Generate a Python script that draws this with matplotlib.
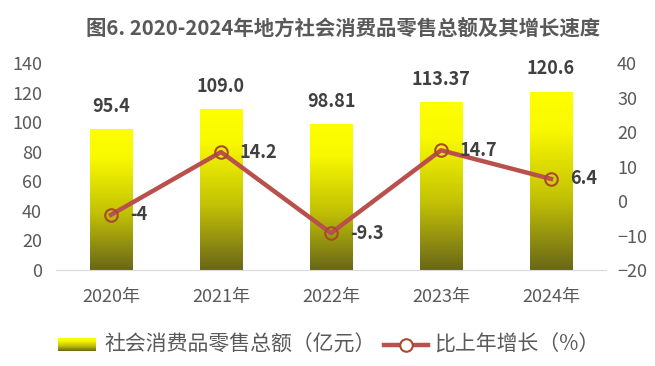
import numpy as np
import matplotlib
matplotlib.use("Agg")
from matplotlib import pyplot as plt
from matplotlib.colors import LinearSegmentedColormap
from matplotlib.lines import Line2D

plt.rcParams['font.family'] = ['Noto Sans CJK SC', 'DejaVu Sans']

years = ["2020年", "2021年", "2022年", "2023年", "2024年"]
sales = [95.4, 109.0, 98.81, 113.37, 120.6]
sales_labels = ["95.4", "109.0", "98.81", "113.37", "120.6"]
growth = [-4, 14.2, -9.3, 14.7, 6.4]
growth_labels = ["-4", "14.2", "-9.3", "14.7", "6.4"]

txt = "#595959"
red = "#BA504C"
edge = "#A84A2E"

fig = plt.figure(figsize=(6.55, 3.66), dpi=100)
ax = fig.add_axes([56/655, 1-270/366, 550/655, 207/366])
ax2 = ax.twinx()

x = np.arange(len(years))
w = 0.39
bars = ax.bar(x, sales, width=w, color="none")

# gradient fill: yellow on top, olive at bottom
cmap = LinearSegmentedColormap.from_list(
    "yel", [(0, "#696718"), (0.4, "#C2C105"), (0.78, "#F8F800"), (1, "#FFFF00")])
grad = np.linspace(0, 1, 256).reshape(-1, 1)
for b in bars:
    x0, y0 = b.get_x(), b.get_y()
    im = ax.imshow(grad, cmap=cmap, origin="lower", aspect="auto",
                   extent=[x0, x0 + b.get_width(), y0, y0 + b.get_height()], zorder=1)
    im.set_clip_path(b)

ax.set_xlim(-0.5, 4.5)
ax.set_ylim(0, 140)
ax.set_yticks(range(0, 141, 20))
ax2.set_ylim(-20, 40)
ax2.set_yticks(range(-20, 41, 10))

for i, v in enumerate(sales):
    ax.text(x[i], v + 9, sales_labels[i], ha="center", va="bottom",
            fontsize=13, fontweight="bold", color="#404040")

ax2.plot(x, growth, color=red, lw=3.2, marker="o", ms=9, mfc="none", mec=edge, mew=1.5, zorder=3)
for i, v in enumerate(growth):
    ax2.text(x[i] + 0.17, v, growth_labels[i], ha="left", va="center",
             fontsize=13, fontweight="bold", color="#404040")

for a in (ax, ax2):
    for s in ("top", "left", "right"):
        a.spines[s].set_visible(False)
    a.tick_params(length=0, labelsize=13, colors=txt)
ax.spines["bottom"].set_color("#D9D9D9")
ax2.spines["bottom"].set_visible(False)
ax.set_xticks(x)
ax.set_xticklabels(years)
ax.tick_params(axis="x", pad=13)
ax.tick_params(axis="y", pad=10)
ax2.tick_params(axis="y", pad=8)

fig.text(343/655, 1-28/366, "图6. 2020-2024年地方社会消费品零售总额及其增长速度",
         ha="center", va="center", fontsize=14.7, fontweight="bold", color="#595959")

# legend drawn by hand (gradient swatch like the bars)
lg = fig.add_axes([58/655, 1-351/366, 38/655, 13/366])
lg.imshow(grad, cmap=cmap, origin="lower", aspect="auto")
lg.axis("off")
fig.text(104/655, 1-345/366, "社会消费品零售总额（亿元）", ha="left", va="center",
         fontsize=15, fontweight="light", color=txt)
fig.add_artist(Line2D([384/655, 428/655], [1-345/366, 1-345/366], color=red, lw=3.2))
fig.add_artist(Line2D([406/655], [1-345/366], marker="o", ms=9, mfc="white", mec=edge, mew=1.5))
fig.text(434/655, 1-345/366, "比上年增长（%）", ha="left", va="center",
         fontsize=15, fontweight="light", color=txt)

fig.savefig("out.png", dpi=100)
